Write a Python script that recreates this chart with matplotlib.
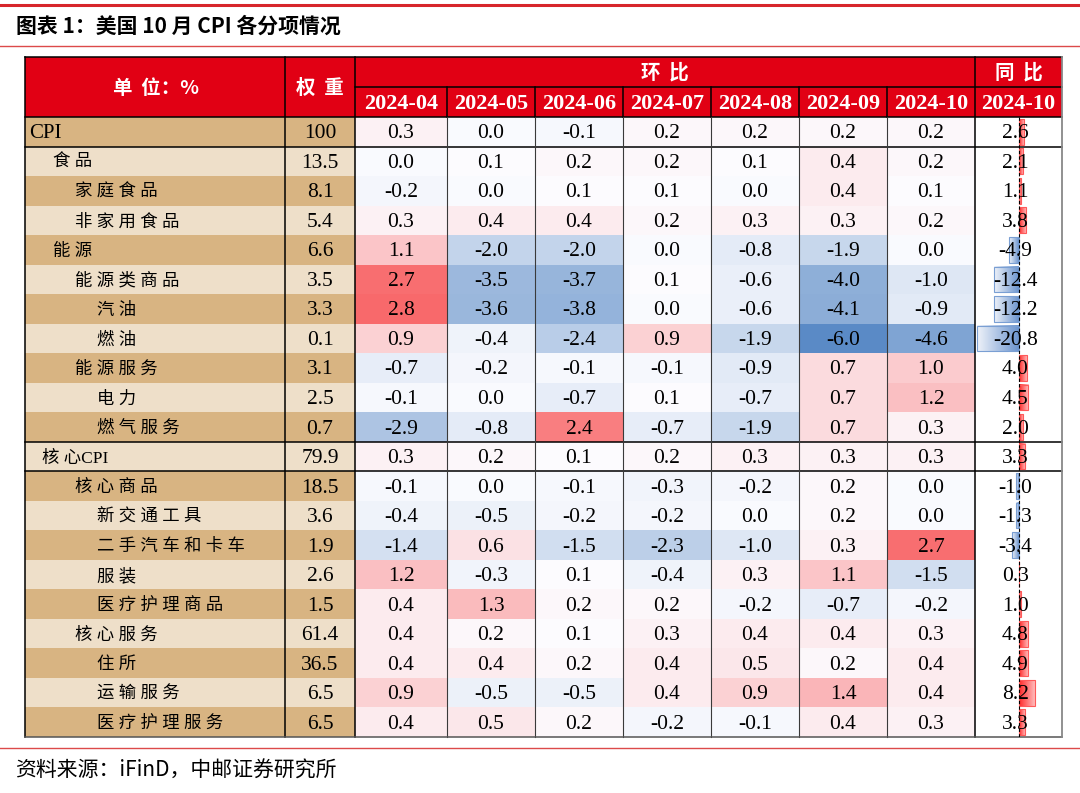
import matplotlib
matplotlib.use('Agg')
import matplotlib.pyplot as plt
import numpy as np
from matplotlib.colors import LinearSegmentedColormap, TwoSlopeNorm
from matplotlib.patches import Rectangle

plt.rcParams['font.family'] = ['Liberation Serif', 'Noto Sans CJK SC']

# 数据
items = ['CPI', '食品', '家庭食品', '非家用食品', '能源', '能源类商品', '汽油', '燃油',
         '能源服务', '电力', '燃气服务', '核心CPI', '核心商品', '新交通工具', '二手汽车和卡车',
         '服装', '医疗护理商品', '核心服务', '住所', '运输服务', '医疗护理服务']
levels = [0, 1, 2, 2, 1, 2, 3, 3, 2, 3, 3, 0.5, 2, 3, 3, 3, 3, 2, 3, 3, 3]
weights = [100, 13.5, 8.1, 5.4, 6.6, 3.5, 3.3, 0.1, 3.1, 2.5, 0.7, 79.9, 18.5, 3.6, 1.9,
           2.6, 1.5, 61.4, 36.5, 6.5, 6.5]
months = ['2024-04', '2024-05', '2024-06', '2024-07', '2024-08', '2024-09', '2024-10']
m04 = [0.3, 0.0, -0.2, 0.3, 1.1, 2.7, 2.8, 0.9, -0.7, -0.1, -2.9, 0.3, -0.1, -0.4, -1.4, 1.2, 0.4, 0.4, 0.4, 0.9, 0.4]
m05 = [0.0, 0.1, 0.0, 0.4, -2.0, -3.5, -3.6, -0.4, -0.2, 0.0, -0.8, 0.2, 0.0, -0.5, 0.6, -0.3, 1.3, 0.2, 0.4, -0.5, 0.5]
m06 = [-0.1, 0.2, 0.1, 0.4, -2.0, -3.7, -3.8, -2.4, -0.1, -0.7, 2.4, 0.1, -0.1, -0.2, -1.5, 0.1, 0.2, 0.1, 0.2, -0.5, 0.2]
m07 = [0.2, 0.2, 0.1, 0.2, 0.0, 0.1, 0.0, 0.9, -0.1, 0.1, -0.7, 0.2, -0.3, -0.2, -2.3, -0.4, 0.2, 0.3, 0.4, 0.4, -0.2]
m08 = [0.2, 0.1, 0.0, 0.3, -0.8, -0.6, -0.6, -1.9, -0.9, -0.7, -1.9, 0.3, -0.2, 0.0, -1.0, 0.3, -0.2, 0.4, 0.5, 0.9, -0.1]
m09 = [0.2, 0.4, 0.4, 0.3, -1.9, -4.0, -4.1, -6.0, 0.7, 0.7, 0.7, 0.3, 0.2, 0.2, 0.3, 1.1, -0.7, 0.4, 0.2, 1.4, 0.4]
m10 = [0.2, 0.2, 0.1, 0.2, 0.0, -1.0, -0.9, -4.6, 1.0, 1.2, 0.3, 0.3, 0.0, 0.0, 2.7, -1.5, -0.2, 0.3, 0.4, 0.4, 0.3]
yoy = [2.6, 2.1, 1.1, 3.8, -4.9, -12.4, -12.2, -20.8, 4.0, 4.5, 2.0, 3.3, -1.0, -1.3, -3.4,
       0.3, 1.0, 4.8, 4.9, 8.2, 3.3]

# 版面 (像素)
W, H = 1080, 793
left, right = 25, 1062
top, mid, hbot, bottom = 57, 87, 117, 737
col_edges = [355, 447, 535, 623, 711, 799, 887, 975]
n = len(items)
row_edges = np.linspace(hbot, bottom, n + 1)
row_c = (row_edges[:-1] + row_edges[1:]) / 2
red = '#E10014'
dark_tan, light_tan = '#D8B482', '#EEDFC9'
dy = 2  # 文字下移


def spaced(s, sep=' '):
    out = ''
    for i, c in enumerate(s):
        out += c
        if i + 1 < len(s) and ord(c) > 127 and ord(s[i + 1]) > 127:
            out += sep
    return out


fig = plt.figure(figsize=(W / 100, H / 100), dpi=100)
ax = fig.add_axes([0, 0, 1, 1])
ax.set_xlim(0, W)
ax.set_ylim(H, 0)
ax.axis('off')

# 标题和来源
ax.plot([0, W], [4.5, 4.5], color='#D7262B', lw=2.2)
ax.plot([0, W], [45.5, 45.5], color='#DC4A4A', lw=1.0)
ax.plot([0, W], [748, 748], color='#DC4A4A', lw=1.0)
ax.text(16, 26, '图表 1：美国 10 月 CPI 各分项情况', family=['Noto Sans CJK SC'],
        fontsize=15, fontweight='bold', va='center', ha='left')
ax.text(15, 771, '资料来源：iFinD，中邮证券研究所', family=['Noto Sans CJK SC'],
        fontsize=15, va='center', ha='left')

# 表头
ax.add_patch(Rectangle((left, top), right - left, hbot - top, color=red, lw=0))
hdr = dict(color='white', fontweight='bold', va='center', ha='center')
ax.text(156, (top + hbot) / 2 + 1, '单  位：%', family=['Noto Sans CJK SC'], fontsize=14, **hdr)
ax.text(320, (top + hbot) / 2 + 1, '权  重', family=['Noto Sans CJK SC'], fontsize=14, **hdr)
ax.text((col_edges[0] + col_edges[-1]) / 2, (top + mid) / 2 + 1, '环  比',
        family=['Noto Sans CJK SC'], fontsize=14, **hdr)
ax.text((975 + right) / 2, (top + mid) / 2 + 1, '同  比', family=['Noto Sans CJK SC'], fontsize=14, **hdr)
for i, m in enumerate(months):
    ax.text((col_edges[i] + col_edges[i + 1]) / 2, (mid + hbot) / 2 + 2, m, fontsize=16, **hdr)
ax.text((975 + right) / 2, (mid + hbot) / 2 + 2, months[-1], fontsize=16, **hdr)

# 标签列和权重列
indent = {0: 29, 0.5: 42, 1: 53, 2: 75, 3: 97}
for i in range(n):
    y0 = row_edges[i]
    ax.add_patch(Rectangle((left, y0), 355 - left, row_edges[i + 1] - y0,
                           color=dark_tan if i % 2 == 0 else light_tan, lw=0))
    ax.text(indent[levels[i]], row_c[i] + dy, spaced(items[i]), fontsize=15 if i == 0 else 12.5,
            va='center', ha='left')
    ax.text(320, row_c[i] + dy, f'{weights[i]:g}', fontsize=15.5, va='center', ha='center')

# 环比热力图
mom = np.column_stack([m04, m05, m06, m07, m08, m09, m10])
cmap = LinearSegmentedColormap.from_list('excel3', ['#5A8AC6', '#FCFCFF', '#F8696B'])
norm = TwoSlopeNorm(vmin=mom.min(), vcenter=0.1, vmax=mom.max())
ax.pcolormesh(col_edges, row_edges, mom, cmap=cmap, norm=norm, shading='flat')
for i in range(n):
    for j in range(len(months)):
        ax.text((col_edges[j] + col_edges[j + 1]) / 2, row_c[i] + dy, f'{mom[i, j]:.1f}',
                fontsize=15.5, va='center', ha='center')

# 线
k = dict(color='black', lw=1.1)
ax.plot([left, right], [top, top], **k)
ax.plot([left, right], [hbot, hbot], **k)
ax.plot([col_edges[0], right], [mid, mid], **k)
for yy in [row_edges[1], row_edges[11], row_edges[12]]:
    ax.plot([left, right], [yy, yy], **k)
for xx in [left, 285, 355, 975]:
    ax.plot([xx, xx], [top, bottom], **k)
for xx in col_edges[1:-1]:
    ax.plot([xx, xx], [mid, hbot], **k)
    ax.plot([xx, xx], [hbot, bottom], color='#3A3A3A', lw=0.8)
ax.plot([left, right], [bottom, bottom], color='#555555', lw=1.1)
ax.plot([right, right], [top, bottom], color='#888888', lw=1.3)

# 同比数据条
bx = fig.add_axes([975 / W, 1 - bottom / H, (right - 975) / W, (bottom - hbot) / H])
bx.axis('off')
grad = np.linspace(0, 1, 64)[None, :]
red_cm = LinearSegmentedColormap.from_list('r', ['#FF2A2A', '#FFC4C4'])
blue_cm = LinearSegmentedColormap.from_list('b', ['#6C95CF', '#EEF2F9'])
bars = bx.barh(range(n), yoy, height=0.87, facecolor='none', zorder=3,
               edgecolor=['#FF5A5A' if v > 0 else '#7A9FD3' for v in yoy], lw=0.8)
for i, v in enumerate(yoy):
    bx.imshow(grad, cmap=red_cm if v > 0 else blue_cm, aspect='auto', zorder=2,
              extent=(0, v, i + 0.435, i - 0.435))
    bx.text(-1.5, i + dy / 29.5, f'{v:.1f}', fontsize=15.5, va='center', ha='center', zorder=5)
bx.axvline(0, color='black', ls=(0, (3, 2)), lw=0.8, zorder=4)
bx.set_xlim(-21.6, 21.6)
bx.set_ylim(n - 0.5, -0.5)

fig.savefig('out.png', dpi=100)
